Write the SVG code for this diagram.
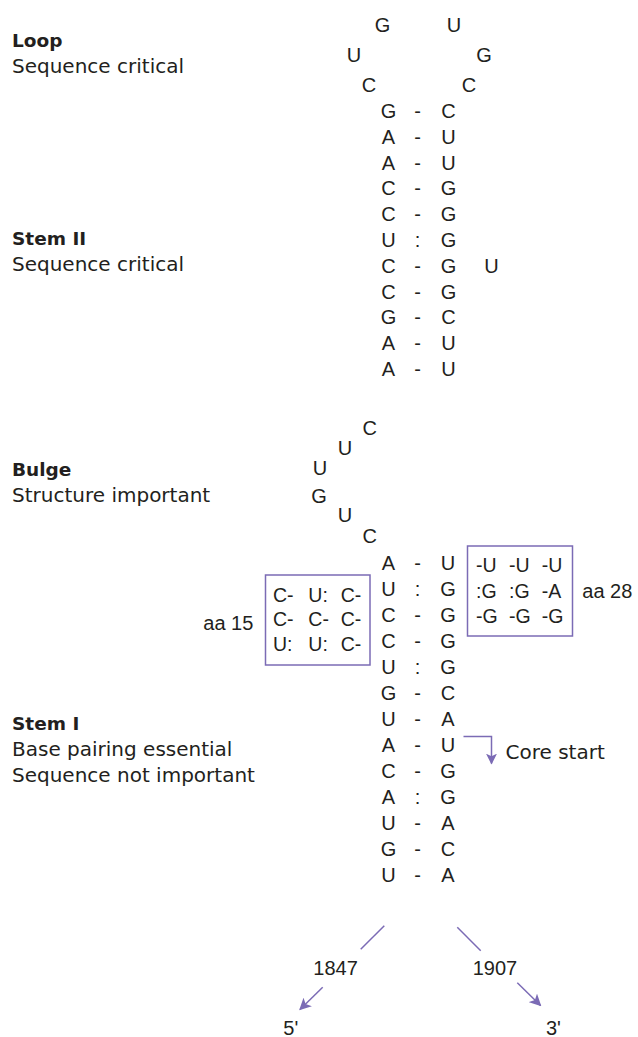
<svg xmlns="http://www.w3.org/2000/svg" width="638" height="1037" viewBox="0 0 638 1037">
<style>
.lab{font-family:"DejaVu Sans",sans-serif;font-size:20px;fill:#231f20}
.bold{font-family:"DejaVu Sans",sans-serif;font-weight:bold;font-size:18.5px;fill:#231f20}
.nt{font-family:"Liberation Sans",Arial,sans-serif;font-size:20px;fill:#231f20;text-anchor:middle}
.bx{font-family:"Liberation Sans",Arial,sans-serif;font-size:19.5px;fill:#231f20}
.num{font-family:"Liberation Sans",Arial,sans-serif;font-size:20px;fill:#231f20}
.box{fill:none;stroke:#7b6bb5;stroke-width:1.5}
.ln{fill:none;stroke:#7b6bb5;stroke-width:1.5}
</style>
<defs>
<marker id="ah" viewBox="0 0 10 10" refX="9" refY="5" markerWidth="11" markerHeight="11" orient="auto" markerUnits="userSpaceOnUse">
<path d="M0,0 L10,5 L0,10 L2.5,5 z" fill="#7b6bb5"/>
</marker>
<marker id="ah2" viewBox="0 0 10 10" refX="9" refY="5" markerWidth="12" markerHeight="12" orient="auto" markerUnits="userSpaceOnUse">
<path d="M0,0 L10,5 L0,10 L2.5,5 z" fill="#7b6bb5"/>
</marker>
</defs>
<rect width="638" height="1037" fill="#ffffff"/>

<g id="label-loop">
<text class="bold" x="12" y="47">Loop</text>
<text class="lab" x="12" y="73">Sequence critical</text>
</g>
<g id="label-stem2">
<text class="bold" x="12" y="245">Stem II</text>
<text class="lab" x="12" y="271">Sequence critical</text>
</g>
<g id="label-bulge">
<text class="bold" x="12" y="476">Bulge</text>
<text class="lab" x="12" y="501.5">Structure important</text>
</g>
<g id="label-stem1">
<text class="bold" x="12" y="729.5">Stem I</text>
<text class="lab" x="12" y="755.5">Base pairing essential</text>
<text class="lab" x="12" y="781.5">Sequence not important</text>
</g>

<g id="loop">
<text class="nt" x="382.5" y="31.5">G</text>
<text class="nt" x="454" y="31.5">U</text>
<text class="nt" x="354" y="61.5">U</text>
<text class="nt" x="484" y="61.5">G</text>
<text class="nt" x="369" y="91.5">C</text>
<text class="nt" x="469" y="91.5">C</text>
</g>

<g id="stem2">
<text class="nt" x="388.5" y="118">G</text><text class="nt" x="417.5" y="118">-</text><text class="nt" x="448.5" y="118">C</text>
<text class="nt" x="388.5" y="143.8">A</text><text class="nt" x="417.5" y="143.8">-</text><text class="nt" x="448.5" y="143.8">U</text>
<text class="nt" x="388.5" y="169.6">A</text><text class="nt" x="417.5" y="169.6">-</text><text class="nt" x="448.5" y="169.6">U</text>
<text class="nt" x="388.5" y="195.4">C</text><text class="nt" x="417.5" y="195.4">-</text><text class="nt" x="448.5" y="195.4">G</text>
<text class="nt" x="388.5" y="221.2">C</text><text class="nt" x="417.5" y="221.2">-</text><text class="nt" x="448.5" y="221.2">G</text>
<text class="nt" x="388.5" y="247">U</text><text class="nt" x="417.5" y="247">:</text><text class="nt" x="448.5" y="247">G</text>
<text class="nt" x="388.5" y="272.8">C</text><text class="nt" x="417.5" y="272.8">-</text><text class="nt" x="448.5" y="272.8">G</text><text class="nt" x="491.5" y="272.8">U</text>
<text class="nt" x="388.5" y="298.6">C</text><text class="nt" x="417.5" y="298.6">-</text><text class="nt" x="448.5" y="298.6">G</text>
<text class="nt" x="388.5" y="324.4">G</text><text class="nt" x="417.5" y="324.4">-</text><text class="nt" x="448.5" y="324.4">C</text>
<text class="nt" x="388.5" y="350.2">A</text><text class="nt" x="417.5" y="350.2">-</text><text class="nt" x="448.5" y="350.2">U</text>
<text class="nt" x="388.5" y="376">A</text><text class="nt" x="417.5" y="376">-</text><text class="nt" x="448.5" y="376">U</text>
</g>

<g id="bulge">
<text class="nt" x="369.7" y="435">C</text>
<text class="nt" x="345" y="455">U</text>
<text class="nt" x="320" y="475">U</text>
<text class="nt" x="319" y="503">G</text>
<text class="nt" x="345" y="521.7">U</text>
<text class="nt" x="369.7" y="542.7">C</text>
</g>

<g id="stem1">
<text class="nt" x="388.5" y="570">A</text><text class="nt" x="417.5" y="570">-</text><text class="nt" x="448" y="570">U</text>
<text class="nt" x="388.5" y="596">U</text><text class="nt" x="417.5" y="596">:</text><text class="nt" x="448" y="596">G</text>
<text class="nt" x="388.5" y="622">C</text><text class="nt" x="417.5" y="622">-</text><text class="nt" x="448" y="622">G</text>
<text class="nt" x="388.5" y="648">C</text><text class="nt" x="417.5" y="648">-</text><text class="nt" x="448" y="648">G</text>
<text class="nt" x="388.5" y="674">U</text><text class="nt" x="417.5" y="674">:</text><text class="nt" x="448" y="674">G</text>
<text class="nt" x="388.5" y="700">G</text><text class="nt" x="417.5" y="700">-</text><text class="nt" x="448" y="700">C</text>
<text class="nt" x="388.5" y="726">U</text><text class="nt" x="417.5" y="726">-</text><text class="nt" x="448" y="726">A</text>
<text class="nt" x="388.5" y="752">A</text><text class="nt" x="417.5" y="752">-</text><text class="nt" x="448" y="752">U</text>
<text class="nt" x="388.5" y="778">C</text><text class="nt" x="417.5" y="778">-</text><text class="nt" x="448" y="778">G</text>
<text class="nt" x="388.5" y="804">A</text><text class="nt" x="417.5" y="804">:</text><text class="nt" x="448" y="804">G</text>
<text class="nt" x="388.5" y="830">U</text><text class="nt" x="417.5" y="830">-</text><text class="nt" x="448" y="830">A</text>
<text class="nt" x="388.5" y="856">G</text><text class="nt" x="417.5" y="856">-</text><text class="nt" x="448" y="856">C</text>
<text class="nt" x="388.5" y="882">U</text><text class="nt" x="417.5" y="882">-</text><text class="nt" x="448" y="882">A</text>
</g>

<g id="box-aa15">
<rect class="box" x="265.5" y="575" width="104.5" height="90"/>
<text class="bx" x="273" y="601.5">C-</text><text class="bx" x="308.3" y="601.5">U:</text><text class="bx" x="340.7" y="601.5">C-</text>
<text class="bx" x="273" y="626">C-</text><text class="bx" x="308.3" y="626">C-</text><text class="bx" x="340.7" y="626">C-</text>
<text class="bx" x="273" y="650.5">U:</text><text class="bx" x="308.3" y="650.5">U:</text><text class="bx" x="340.7" y="650.5">C-</text>
<text class="num" x="203.3" y="630">aa 15</text>
</g>

<g id="box-aa28">
<rect class="box" x="467.5" y="546" width="105" height="90"/>
<text class="bx" x="476" y="572">-U</text><text class="bx" x="509" y="572">-U</text><text class="bx" x="541.7" y="572">-U</text>
<text class="bx" x="476" y="597.5">:G</text><text class="bx" x="509" y="597.5">:G</text><text class="bx" x="541.7" y="597.5">-A</text>
<text class="bx" x="476" y="623">-G</text><text class="bx" x="509" y="623">-G</text><text class="bx" x="541.7" y="623">-G</text>
<text class="num" x="582.3" y="598">aa 28</text>
</g>

<g id="core-start">
<text class="lab" x="505.5" y="758.5">Core start</text>
</g>

<g id="ends">
<text class="num" x="313.3" y="975">1847</text>
<text class="num" x="472.7" y="975">1907</text>
<text class="num" x="283.3" y="1035">5'</text>
<text class="num" x="546" y="1035">3'</text>
</g>

<g id="connectors">
<path class="ln" d="M463.5,736.5 H491.5 V763.5" marker-end="url(#ah)"/>
<line class="ln" x1="384.3" y1="925.7" x2="360.7" y2="949.3"/>
<line class="ln" x1="457.3" y1="927.3" x2="480.7" y2="950.7"/>
<line class="ln" x1="322.7" y1="987.3" x2="300" y2="1009.5" marker-end="url(#ah2)"/>
<line class="ln" x1="517.3" y1="982.7" x2="540.5" y2="1005.5" marker-end="url(#ah2)"/>
</g>
</svg>
